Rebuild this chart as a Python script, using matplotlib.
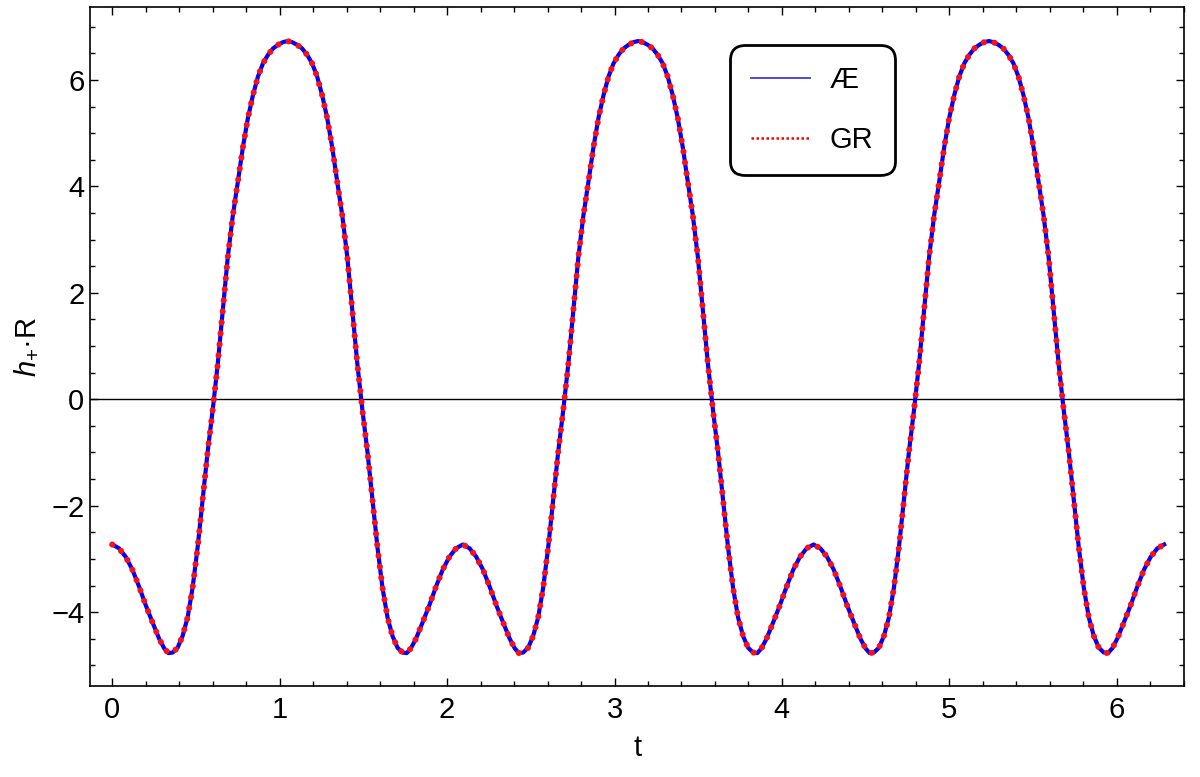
import numpy as np
import matplotlib
matplotlib.use("Agg")
import matplotlib.pyplot as plt
from matplotlib.lines import Line2D
from matplotlib.ticker import MultipleLocator

plt.rcParams['font.family'] = ['Liberation Sans', 'DejaVu Sans']
plt.rcParams['mathtext.fontset'] = 'custom'
plt.rcParams['mathtext.rm'] = 'Liberation Sans'
plt.rcParams['mathtext.it'] = 'Liberation Sans:italic'

# values (t, h_+ R); AE and GR curves coincide
t = [0.000, 0.040, 0.080, 0.120, 0.160, 0.200, 0.240, 0.280, 0.310, 0.335, 0.360, 0.390, 0.420, 0.450, 0.480,
     0.510, 0.540, 0.570, 0.600, 0.630, 0.660, 0.690, 0.720, 0.750, 0.780, 0.810, 0.840, 0.870, 0.900, 0.930,
     0.960, 0.990, 1.020, 1.047, 1.074, 1.104, 1.134, 1.164, 1.194, 1.224, 1.254, 1.284, 1.314, 1.344, 1.374,
     1.404, 1.434, 1.464, 1.494, 1.524, 1.554, 1.584, 1.614, 1.644, 1.674, 1.704, 1.734, 1.759, 1.784, 1.814,
     1.854, 1.894, 1.934, 1.974, 2.014, 2.054,
     2.094, 2.134, 2.174, 2.214, 2.254, 2.294, 2.334, 2.374, 2.404, 2.429, 2.454, 2.484, 2.514, 2.544, 2.574,
     2.604, 2.634, 2.664, 2.694, 2.724, 2.754, 2.784, 2.814, 2.844, 2.874, 2.904, 2.934, 2.964, 2.994, 3.024,
     3.054, 3.084, 3.114, 3.141, 3.168, 3.198, 3.228, 3.258, 3.288, 3.318, 3.348, 3.378, 3.408, 3.438, 3.468,
     3.498, 3.528, 3.558, 3.588, 3.618, 3.648, 3.678, 3.708, 3.738, 3.768, 3.798, 3.828, 3.853, 3.878, 3.908,
     3.948, 3.988, 4.028, 4.068, 4.108, 4.148,
     4.189, 4.229, 4.269, 4.309, 4.349, 4.389, 4.429, 4.469, 4.499, 4.524, 4.549, 4.579, 4.609, 4.639, 4.669,
     4.699, 4.729, 4.759, 4.789, 4.819, 4.849, 4.879, 4.909, 4.939, 4.969, 4.999, 5.029, 5.059, 5.089, 5.119,
     5.149, 5.179, 5.209, 5.236, 5.263, 5.293, 5.323, 5.353, 5.383, 5.413, 5.443, 5.473, 5.503, 5.533, 5.563,
     5.593, 5.623, 5.653, 5.683, 5.713, 5.743, 5.773, 5.803, 5.833, 5.863, 5.893, 5.923, 5.948, 5.973, 6.003,
     6.043, 6.083, 6.123, 6.163, 6.203, 6.243, 6.283]

h = [-2.73, -2.80, -2.96, -3.20, -3.52, -3.87, -4.19, -4.50, -4.68, -4.77, -4.76, -4.67, -4.45, -4.10, -3.54,
     -2.78, -1.88, -0.98, -0.20, 0.66, 1.67, 2.67, 3.45, 4.08, 4.73, 5.28, 5.71, 6.06, 6.31, 6.47,
     6.59, 6.66, 6.71, 6.73, 6.71, 6.66, 6.59, 6.47, 6.31, 6.06, 5.71, 5.28, 4.73, 4.08, 3.45,
     2.67, 1.67, 0.66, -0.20, -0.98, -1.88, -2.78, -3.54, -4.10, -4.45, -4.67, -4.76, -4.77, -4.68, -4.50,
     -4.19, -3.87, -3.52, -3.20, -2.96, -2.80,
     -2.73, -2.80, -2.96, -3.20, -3.52, -3.87, -4.19, -4.50, -4.68, -4.77, -4.76, -4.67, -4.45, -4.10, -3.54,
     -2.78, -1.88, -0.98, -0.20, 0.66, 1.67, 2.67, 3.45, 4.08, 4.73, 5.28, 5.71, 6.06, 6.31, 6.47,
     6.59, 6.66, 6.71, 6.73, 6.71, 6.66, 6.59, 6.47, 6.31, 6.06, 5.71, 5.28, 4.73, 4.08, 3.45,
     2.67, 1.67, 0.66, -0.20, -0.98, -1.88, -2.78, -3.54, -4.10, -4.45, -4.67, -4.76, -4.77, -4.68, -4.50,
     -4.19, -3.87, -3.52, -3.20, -2.96, -2.80,
     -2.73, -2.80, -2.96, -3.20, -3.52, -3.87, -4.19, -4.50, -4.68, -4.77, -4.76, -4.67, -4.45, -4.10, -3.54,
     -2.78, -1.88, -0.98, -0.20, 0.66, 1.67, 2.67, 3.45, 4.08, 4.73, 5.28, 5.71, 6.06, 6.31, 6.47,
     6.59, 6.66, 6.71, 6.73, 6.71, 6.66, 6.59, 6.47, 6.31, 6.06, 5.71, 5.28, 4.73, 4.08, 3.45,
     2.67, 1.67, 0.66, -0.20, -0.98, -1.88, -2.78, -3.54, -4.10, -4.45, -4.67, -4.76, -4.77, -4.68, -4.50,
     -4.19, -3.87, -3.52, -3.20, -2.96, -2.80, -2.73]

h_ae = h
h_gr = h
labels = ['Æ', 'GR']

fig = plt.figure(figsize=(12, 7.77), dpi=100)
ax = fig.add_axes([0.075, 0.117, 0.912, 0.874])

ax.axhline(0, color='black', lw=1.0, zorder=1)
ax.plot(t, h_ae, color='#0000ff', lw=3.0, zorder=2)
ax.plot(t, h_gr, color='#ff1010', lw=4.4, linestyle=(0, (0.01, 1.8)),
        dash_capstyle='round', zorder=3)

ax.set_xlim(-0.133, 6.404)
ax.set_ylim(-5.39, 7.37)
ax.xaxis.set_major_locator(MultipleLocator(1))
ax.xaxis.set_minor_locator(MultipleLocator(0.2))
ax.yaxis.set_major_locator(MultipleLocator(2))
ax.yaxis.set_minor_locator(MultipleLocator(0.5))
ax.tick_params(which='both', direction='in', top=True, right=True, width=1.0, labelsize=21)
ax.tick_params(which='major', length=6)
ax.tick_params(which='minor', length=3.5)
ax.tick_params(axis='x', pad=7)
ax.tick_params(axis='y', pad=4)
for s in ax.spines.values():
    s.set_linewidth(1.2)

ax.set_xlabel('t', fontsize=21, labelpad=7)
ax.set_ylabel(r'$h_{+}$·R', fontsize=21, labelpad=8)

handles = [Line2D([], [], color='#4b4bdc', lw=1.4),
           Line2D([], [], color='#ff0000', lw=1.8, linestyle=(0, (1, 1)))]
leg = ax.legend(handles, labels, loc='upper left', bbox_to_anchor=(0.585, 0.944),
                fontsize=21, handlelength=2.0, handletextpad=0.7, labelspacing=1.1,
                borderpad=0.72, borderaxespad=0, fancybox=True, framealpha=1,
                edgecolor='black')
leg.get_frame().set_linewidth(2.0)
leg.get_frame().set_boxstyle('round,pad=0.0,rounding_size=0.5')

fig.savefig('out.png', dpi=100)
